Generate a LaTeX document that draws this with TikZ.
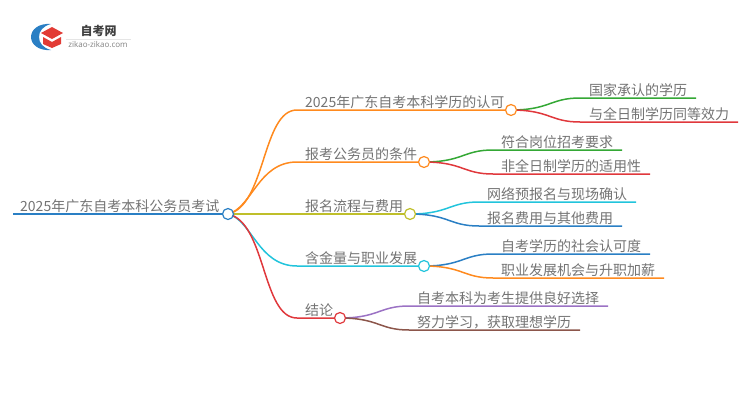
\documentclass[tikz,border=0pt]{standalone}
\usepackage{fontspec}
\usetikzlibrary{backgrounds}
\setmainfont{Noto Sans CJK SC}
\newfontfamily\latinfont{Open Sans}
\definecolor{lineblue}{HTML}{2A7FC4}
\definecolor{lineorange}{HTML}{FF8A1E}
\definecolor{lineolive}{HTML}{BFBF2A}
\definecolor{linecyan}{HTML}{22C4DC}
\definecolor{linered}{HTML}{E0383C}
\definecolor{linegreen}{HTML}{34A835}
\definecolor{linepurple}{HTML}{9B72C4}
\definecolor{linebrown}{HTML}{8C564B}
\definecolor{logored}{HTML}{E23B35}
\tikzset{
  hub/.style={circle, draw, fill=white, line width=1.2pt, minimum size=11pt, inner sep=0pt},
  txt/.style={anchor=south west, inner sep=0pt, text=black!55, font=\fontsize{14}{14}\selectfont},
  branch/.style={line width=1.5pt}
}
\begin{document}
\begin{tikzpicture}[x=1pt, y=-1pt]
    \useasboundingbox (0, 0) rectangle (750, 410);

    % logo
    \fill[lineblue] (51, 24) .. controls (38, 23) and (31, 30) .. (31, 37) .. controls (31, 44) and (38, 51) .. (51, 50)
      .. controls (43, 48) and (39, 43) .. (39, 37) .. controls (39, 31) and (43, 26) .. (51, 24) -- cycle;
    \fill[logored] (52, 27) -- (63, 33) -- (52, 39) -- (41, 33) -- cycle;
    \fill[logored] (43, 37) -- (52, 42) -- (61, 37) -- (61, 44) -- (52, 48) -- (43, 44) -- cycle;
    \draw[black!10, line width=0.5pt] (66, 39) -- (131, 39);
    \node[inner sep=0pt, text=black!75, font=\fontsize{12}{12}\selectfont\bfseries] (logotitle) at (98.5, 31) {自考网};
    \node[inner sep=0pt, text=black!50, font=\fontsize{8}{8}\latinfont] (logourl) at (98, 45) {zikao-zikao.com};

    % hubs
    \coordinate (rootstart) at (13, 214);
    \node[hub, draw=lineblue] (root) at (228, 214) {};
    \node[hub, draw=lineorange] (recog) at (511, 110) {};
    \node[hub, draw=lineorange] (cond) at (424, 162) {};
    \node[hub, draw=lineolive] (flow) at (410, 214) {};
    \node[hub, draw=linecyan] (value) at (424, 266) {};
    \node[hub, draw=linered] (summ) at (340, 318) {};

    \node[txt] (roottxt) at (20, 213) {2025年广东自考本科公务员考试};
    \node[txt] (recogtxt) at (305, 109) {2025年广东自考本科学历的认可};
    \node[txt] (condtxt) at (305, 161) {报考公务员的条件};
    \node[txt] (flowtxt) at (305, 213) {报名流程与费用};
    \node[txt] (valuetxt) at (305, 265) {含金量与职业发展};
    \node[txt] (summtxt) at (305, 317) {结论};

    \node[txt] (recoga) at (589, 97) {国家承认的学历};
    \node[txt] (recogb) at (589, 121) {与全日制学历同等效力};
    \node[txt] (conda) at (501, 149) {符合岗位招考要求};
    \node[txt] (condb) at (501, 173) {非全日制学历的适用性};
    \node[txt] (flowa) at (487, 201) {网络预报名与现场确认};
    \node[txt] (flowb) at (487, 225) {报名费用与其他费用};
    \node[txt] (valuea) at (501, 253) {自考学历的社会认可度};
    \node[txt] (valueb) at (501, 277) {职业发展机会与升职加薪};
    \node[txt] (summa) at (417, 305) {自考本科为考生提供良好选择};
    \node[txt] (summb) at (417, 329) {努力学习，获取理想学历};

    % free ends of the leaf lines
    \coordinate (recogaend) at (696, 98);
    \coordinate (recogbend) at (738, 122);
    \coordinate (condaend) at (622, 150);
    \coordinate (condbend) at (650, 174);
    \coordinate (flowaend) at (636, 202);
    \coordinate (flowbend) at (622, 226);
    \coordinate (valueaend) at (650, 254);
    \coordinate (valuebend) at (664, 278);
    \coordinate (summaend) at (608, 306);
    \coordinate (summbend) at (580, 330);

    \begin{pgfonlayer}{background}
      \begin{scope}[branch]
        \draw[lineblue] (rootstart) -- (root);
        \draw[lineorange] (root.center) .. controls (266, 206) and (262, 110) .. (297, 110) -- (recog);
        \draw[lineorange] (root.center) .. controls (252, 208) and (258, 162) .. (297, 162) -- (cond);
        \draw[lineolive] (root) -- (flow);
        \draw[linecyan] (root.center) .. controls (252, 220) and (258, 266) .. (297, 266) -- (value);
        \draw[linered] (root.center) .. controls (266, 222) and (262, 318) .. (297, 318) -- (summ);

        \draw[linegreen] (recog.center) .. controls (550, 110) and (550, 98) .. (580, 98) -- (recogaend);
        \draw[linered] (recog.center) .. controls (550, 110) and (550, 122) .. (580, 122) -- (recogbend);
        \draw[linegreen] (cond.center) .. controls (463, 162) and (463, 150) .. (493, 150) -- (condaend);
        \draw[linered] (cond.center) .. controls (463, 162) and (463, 174) .. (493, 174) -- (condbend);
        \draw[linecyan] (flow.center) .. controls (449, 214) and (449, 202) .. (479, 202) -- (flowaend);
        \draw[lineblue] (flow.center) .. controls (449, 214) and (449, 226) .. (479, 226) -- (flowbend);
        \draw[lineblue] (value.center) .. controls (463, 266) and (463, 254) .. (493, 254) -- (valueaend);
        \draw[lineorange] (value.center) .. controls (463, 266) and (463, 278) .. (493, 278) -- (valuebend);
        \draw[linepurple] (summ.center) .. controls (379, 318) and (379, 306) .. (409, 306) -- (summaend);
        \draw[linebrown] (summ.center) .. controls (379, 318) and (379, 330) .. (409, 330) -- (summbend);
      \end{scope}
    \end{pgfonlayer}
\end{tikzpicture}
\end{document}
